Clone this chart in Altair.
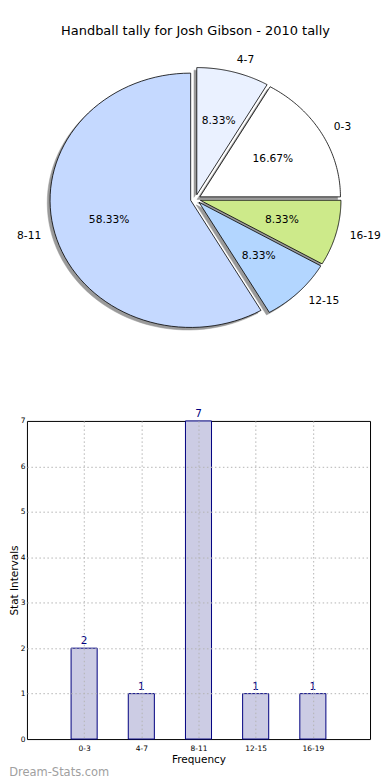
import json
import altair as alt
import pandas as pd

# ---------------- data ----------------
cats = ["0-3", "4-7", "8-11", "12-15", "16-19"]
counts = [2, 1, 7, 1, 1]
slice_colors = ["#ffffff", "#eaf1ff", "#c5d9ff", "#b3d6ff", "#cdea8a"]
y_ticks = [0, 1, 2, 3, 4, 5, 6, 7]

chart_title = "Handball tally for Josh Gibson - 2010 tally"
x_title = "Frequency"
y_title = "Stat Intervals"
watermark = "Dream-Stats.com"

FONT = "DejaVu Sans"

df = pd.DataFrame({"cat": cats, "count": counts, "idx": list(range(len(cats)))})

# ---------------- layout (page px) ----------------
PLOT_LEFT = 26.0
PIE_TOP = 41.0
PIE_H = 360
GAP = 20
BAR_H = 319
TOP_RIGHT = 382
BAR_RIGHT = 370

CX, CY, RX, RY = 195.0, 198.6, 141.0, 127.5
EXPL = 0.0355
SHADOW = 0.02
N = 72

W1 = TOP_RIGHT - PLOT_LEFT
W2 = BAR_RIGHT - PLOT_LEFT

xs = alt.Scale(domain=[(PLOT_LEFT - CX) / RX, (TOP_RIGHT - CX) / RX], nice=False, zero=False)
ys = alt.Scale(domain=[(CY - (PIE_TOP + PIE_H)) / RY, (CY - PIE_TOP) / RY], nice=False, zero=False)

# ---------------- pie ----------------
base = (
    alt.Chart(df)
    .transform_joinaggregate(total="sum(count)")
    .transform_window(cum="sum(count)", sort=[alt.SortField("idx")], frame=[None, 0])
    .transform_calculate(a0="2*PI*(datum.cum - datum.count)/datum.total")
    .transform_calculate(a1="2*PI*datum.cum/datum.total")
    .transform_calculate(mid="(datum.a0 + datum.a1)/2")
    .transform_calculate(ox=f"{EXPL}*cos(datum.mid)")
    .transform_calculate(oy=f"{EXPL}*sin(datum.mid)")
)

poly = (
    base.transform_calculate(steps=f"sequence(0, {N + 3})")
    .transform_flatten(["steps"], as_=["step"])
    .transform_calculate(ang=f"datum.a0 + (datum.a1 - datum.a0)*(datum.step - 1)/{N}")
    .transform_calculate(r=f"(datum.step >= 1 && datum.step <= {N + 1}) ? 1 : 0")
    .transform_calculate(px="datum.ox + datum.r*cos(datum.ang)")
    .transform_calculate(py="datum.oy + datum.r*sin(datum.ang)")
    .transform_calculate(sx=f"datum.px - {SHADOW}")
    .transform_calculate(sy=f"datum.py - {SHADOW}")
)

shadow = poly.mark_line(fill="#9a9a9a", stroke="#9a9a9a", strokeWidth=0.5).encode(
    x=alt.X("sx:Q", scale=xs, axis=None),
    y=alt.Y("sy:Q", scale=ys, axis=None),
    order=alt.Order("step:Q"),
    detail="cat:N",
)

wedges = poly.mark_line(stroke="black", strokeWidth=0.8, strokeJoin="miter").encode(
    x=alt.X("px:Q", scale=xs, axis=None),
    y=alt.Y("py:Q", scale=ys, axis=None),
    order=alt.Order("step:Q"),
    detail="cat:N",
    fill=alt.Fill("cat:N", scale=alt.Scale(domain=cats, range=slice_colors), legend=None),
)

lab = (
    base.transform_calculate(lx="datum.ox + 1.1*cos(datum.mid)")
    .transform_calculate(ly="datum.oy + 1.1*sin(datum.mid)")
)
lab_r = lab.transform_filter("datum.lx >= 0").mark_text(
    align="left", baseline="middle", font=FONT, fontSize=10.7, color="black"
).encode(x=alt.X("lx:Q", scale=xs, axis=None), y=alt.Y("ly:Q", scale=ys, axis=None), text="cat:N")
lab_l = lab.transform_filter("datum.lx < 0").mark_text(
    align="right", baseline="middle", font=FONT, fontSize=10.7, color="black"
).encode(x=alt.X("lx:Q", scale=xs, axis=None), y=alt.Y("ly:Q", scale=ys, axis=None), text="cat:N")

pct = (
    base.transform_calculate(tx="datum.ox + 0.6*cos(datum.mid)")
    .transform_calculate(ty="datum.oy + 0.6*sin(datum.mid)")
    .transform_calculate(pl="format(100*datum.count/datum.total, '.2f') + '%'")
    .mark_text(align="center", baseline="middle", font=FONT, fontSize=10.7, color="black")
    .encode(x=alt.X("tx:Q", scale=xs, axis=None), y=alt.Y("ty:Q", scale=ys, axis=None), text="pl:N")
)

top = alt.layer(shadow, wedges, lab_l, lab_r, pct).properties(
    width=W1,
    height=PIE_H,
    title=alt.Title(chart_title, fontSize=13, font=FONT, fontWeight="normal", offset=4,
                    anchor="middle", dx=(195 - (PLOT_LEFT + TOP_RIGHT) / 2), color="black"),
    view=alt.ViewBackground(strokeOpacity=0),
)

# ---------------- bars ----------------
bx = alt.Scale(domain=[-1, len(cats)], nice=False, zero=False)
by = alt.Scale(domain=[0, max(y_ticks)], nice=False)
label_expr = f"{json.dumps(cats)}[datum.value]"

grid_kw = dict(grid=True, ticks=False, domain=False, gridDash=[1.5, 2.5], gridColor="#b4b4b4",
               gridWidth=1, labelColor="black", titleColor="black", titleFontWeight="normal",
               labelFont=FONT, titleFont=FONT, labelFontSize=7.5, titleFontSize=10.5, zindex=1)

y_grid_opacity = {
    "condition": {"test": f"datum.value <= 0 || datum.value >= {max(y_ticks)}", "value": 0},
    "value": 1,
}

bars = (
    alt.Chart(df)
    .transform_calculate(x0="datum.idx - 0.228")
    .transform_calculate(x1="datum.idx + 0.228")
    .transform_calculate(base0="0")
    .mark_bar(fill="#ccccE4", stroke="#000080", strokeWidth=1)
    .encode(
        x=alt.X("x0:Q", scale=bx, axis=alt.Axis(values=list(range(len(cats))), labelExpr=label_expr,
                                                 title=x_title, labelPadding=5, titlePadding=3, **grid_kw)),
        x2="x1:Q",
        y=alt.Y("count:Q", scale=by, axis=alt.Axis(values=y_ticks, title=y_title, labelPadding=2,
                                                    titlePadding=1, gridOpacity=y_grid_opacity,
                                                    **grid_kw)),
        y2="base0:Q",
    )
)

vals = alt.Chart(df).mark_text(
    baseline="alphabetic", dy=-4, color="#000080", font=FONT, fontSize=10.5
).encode(x=alt.X("idx:Q", scale=bx), y=alt.Y("count:Q", scale=by), text="count:Q")

bottom = alt.layer(bars, vals).properties(
    width=W2,
    height=BAR_H,
    title=alt.Title(watermark, orient="bottom", anchor="start", frame="bounds", fontSize=11.5,
                    color="#a0a0a0", font=FONT, fontWeight="normal", offset=2),
    view=alt.ViewBackground(stroke="black", strokeWidth=1),
)

chart = alt.vconcat(top, bottom, spacing=GAP, bounds="flush").properties(
    padding={"left": 0, "top": 16, "right": 0, "bottom": 0}
)

chart.save("out.html", embed_options={"renderer": "svg", "actions": False})
